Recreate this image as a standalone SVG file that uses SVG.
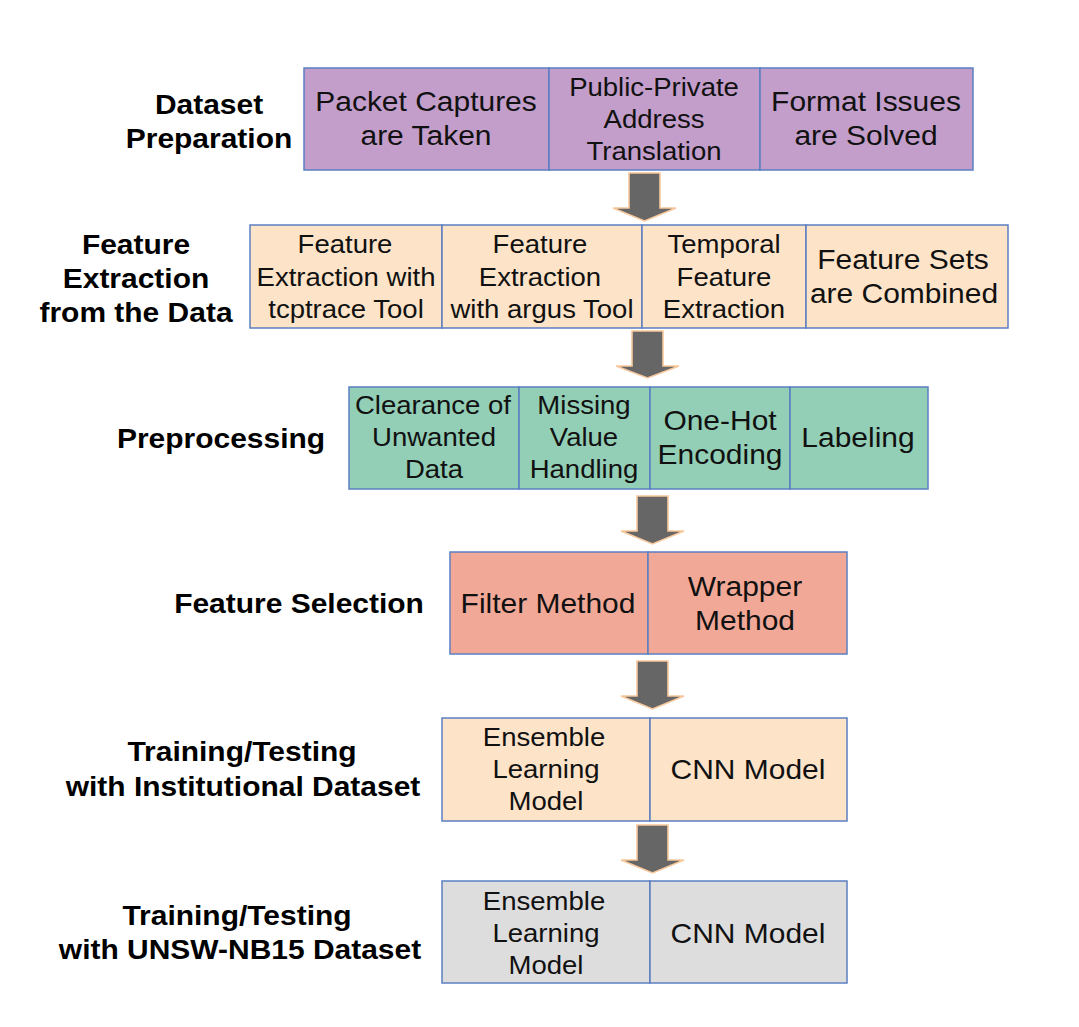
<svg xmlns="http://www.w3.org/2000/svg" width="1079" height="1027" viewBox="0 0 1079 1027">
<style>
.cell{stroke:#5b7fc1;stroke-width:1.5}
.p{fill:#c39ecb}.o{fill:#fde4c9}.g{fill:#93cfb6}.s{fill:#f2a897}.q{fill:#dddddd}
text{font-family:"Liberation Sans",Arial,sans-serif;fill:#111;text-anchor:middle}
.t2{font-size:27.5px}.t3{font-size:25.5px}
.lb{font-size:27.5px;font-weight:bold;fill:#000}
.arr{fill:#666666;stroke:#f7c89c;stroke-width:1.6;stroke-linejoin:miter}
</style>
<rect width="1079" height="1027" fill="#ffffff"/>

<g id="labels">
<text class="lb" transform="translate(209 114) scale(1.09 1)">Dataset</text>
<text class="lb" transform="translate(209 148) scale(1.09 1)">Preparation</text>
<text class="lb" transform="translate(136 254) scale(1.09 1)">Feature</text>
<text class="lb" transform="translate(136 288) scale(1.09 1)">Extraction</text>
<text class="lb" transform="translate(136 322) scale(1.09 1)">from the Data</text>
<text class="lb" transform="translate(221 448) scale(1.09 1)">Preprocessing</text>
<text class="lb" transform="translate(299 613) scale(1.09 1)">Feature Selection</text>
<text class="lb" transform="translate(242 761) scale(1.09 1)">Training/Testing</text>
<text class="lb" transform="translate(243 796) scale(1.09 1)">with Institutional Dataset</text>
<text class="lb" transform="translate(237 925) scale(1.09 1)">Training/Testing</text>
<text class="lb" transform="translate(240 959) scale(1.09 1)">with UNSW-NB15 Dataset</text>
</g>

<g id="connectors">
<path class="arr" d="M629 173 h31 v35 h16 l-31.5 13 l-31.5 -13 h16 z"/>
<path class="arr" d="M632 331 h31 v35 h16 l-31.5 12 l-31.5 -12 h16 z"/>
<path class="arr" d="M637 496 h31 v35 h16 l-31.5 13 l-31.5 -13 h16 z"/>
<path class="arr" d="M637 661 h31 v35 h16 l-31.5 13 l-31.5 -13 h16 z"/>
<path class="arr" d="M637 825 h31 v35 h16 l-31.5 13 l-31.5 -13 h16 z"/>
</g>

<g id="row1">
<g id="packet-captures">
<rect class="cell p" x="304" y="68" width="245" height="102"/>
<text class="t2" transform="translate(426 111) scale(1.09 1)">Packet Captures</text>
<text class="t2" transform="translate(426 145) scale(1.09 1)">are Taken</text>
</g>
<g id="address-translation">
<rect class="cell p" x="549" y="68" width="211" height="102"/>
<text class="t3" transform="translate(654 96) scale(1.08 1)">Public-Private</text>
<text class="t3" transform="translate(654 128) scale(1.08 1)">Address</text>
<text class="t3" transform="translate(654 160) scale(1.08 1)">Translation</text>
</g>
<g id="format-issues">
<rect class="cell p" x="760" y="68" width="213" height="102"/>
<text class="t2" transform="translate(866 111) scale(1.09 1)">Format Issues</text>
<text class="t2" transform="translate(866 145) scale(1.09 1)">are Solved</text>
</g>
</g>

<g id="row2">
<g id="tcptrace">
<rect class="cell o" x="250" y="225" width="192" height="103"/>
<text class="t3" transform="translate(345 253) scale(1.08 1)">Feature</text>
<text class="t3" transform="translate(346 286) scale(1.08 1)">Extraction with</text>
<text class="t3" transform="translate(346 318) scale(1.08 1)">tcptrace Tool</text>
</g>
<g id="argus">
<rect class="cell o" x="442" y="225" width="200" height="103"/>
<text class="t3" transform="translate(540 253) scale(1.08 1)">Feature</text>
<text class="t3" transform="translate(540 286) scale(1.08 1)">Extraction</text>
<text class="t3" transform="translate(542 318) scale(1.08 1)">with argus Tool</text>
</g>
<g id="temporal">
<rect class="cell o" x="642" y="225" width="164" height="103"/>
<text class="t3" transform="translate(724 253) scale(1.08 1)">Temporal</text>
<text class="t3" transform="translate(724 286) scale(1.08 1)">Feature</text>
<text class="t3" transform="translate(724 318) scale(1.08 1)">Extraction</text>
</g>
<g id="combined">
<rect class="cell o" x="806" y="225" width="202" height="103"/>
<text class="t2" transform="translate(903 269) scale(1.09 1)">Feature Sets</text>
<text class="t2" transform="translate(904 303) scale(1.09 1)">are Combined</text>
</g>
</g>

<g id="row3">
<g id="clearance">
<rect class="cell g" x="349" y="387" width="170" height="102"/>
<text class="t3" transform="translate(433 414) scale(1.08 1)">Clearance of</text>
<text class="t3" transform="translate(434 446) scale(1.08 1)">Unwanted</text>
<text class="t3" transform="translate(434 478) scale(1.08 1)">Data</text>
</g>
<g id="missing">
<rect class="cell g" x="519" y="387" width="131" height="102"/>
<text class="t3" transform="translate(584 414) scale(1.08 1)">Missing</text>
<text class="t3" transform="translate(584 446) scale(1.08 1)">Value</text>
<text class="t3" transform="translate(584 478) scale(1.08 1)">Handling</text>
</g>
<g id="onehot">
<rect class="cell g" x="650" y="387" width="140" height="102"/>
<text class="t2" transform="translate(720 430) scale(1.09 1)">One-Hot</text>
<text class="t2" transform="translate(720 464) scale(1.09 1)">Encoding</text>
</g>
<g id="labeling">
<rect class="cell g" x="790" y="387" width="138" height="102"/>
<text class="t2" transform="translate(858 447) scale(1.09 1)">Labeling</text>
</g>
</g>

<g id="row4">
<g id="filter">
<rect class="cell s" x="450" y="552" width="198" height="102"/>
<text class="t2" transform="translate(548 613) scale(1.09 1)">Filter Method</text>
</g>
<g id="wrapper">
<rect class="cell s" x="648" y="552" width="199" height="102"/>
<text class="t2" transform="translate(745 596) scale(1.09 1)">Wrapper</text>
<text class="t2" transform="translate(745 630) scale(1.09 1)">Method</text>
</g>
</g>

<g id="row5">
<g id="ensemble-inst">
<rect class="cell o" x="442" y="718" width="208" height="103"/>
<text class="t3" transform="translate(544 746) scale(1.08 1)">Ensemble</text>
<text class="t3" transform="translate(546 778) scale(1.08 1)">Learning</text>
<text class="t3" transform="translate(546 810) scale(1.08 1)">Model</text>
</g>
<g id="cnn-inst">
<rect class="cell o" x="650" y="718" width="197" height="103"/>
<text class="t2" transform="translate(748 779) scale(1.09 1)">CNN Model</text>
</g>
</g>

<g id="row6">
<g id="ensemble-unsw">
<rect class="cell q" x="442" y="881" width="208" height="102"/>
<text class="t3" transform="translate(544 910) scale(1.08 1)">Ensemble</text>
<text class="t3" transform="translate(546 942) scale(1.08 1)">Learning</text>
<text class="t3" transform="translate(546 974) scale(1.08 1)">Model</text>
</g>
<g id="cnn-unsw">
<rect class="cell q" x="650" y="881" width="197" height="102"/>
<text class="t2" transform="translate(748 943) scale(1.09 1)">CNN Model</text>
</g>
</g>
</svg>
